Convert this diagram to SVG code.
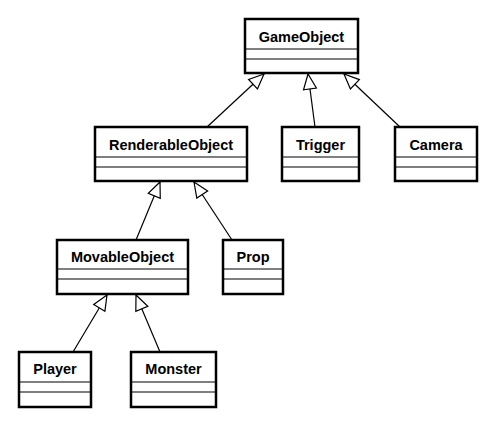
<svg xmlns="http://www.w3.org/2000/svg" width="503" height="435" viewBox="0 0 503 435">
<style>
.box{fill:#fff;stroke:#000;stroke-width:2.5}
.sep{stroke:#000;stroke-width:1.2}
.t{font-family:"Liberation Sans",Arial,sans-serif;font-weight:bold;font-size:14.5px;fill:#000;text-anchor:middle}
.c{stroke:#000;stroke-width:1.2;fill:none}
</style>
<defs>
<marker id="tri" markerUnits="userSpaceOnUse" markerWidth="18" markerHeight="16" viewBox="-16 -8 18 16" refX="0" refY="0" orient="auto">
<path d="M0,0 L-15,-6.5 L-15,6.5 Z" fill="#fff" stroke="#000" stroke-width="1.2"/>
</marker>
</defs>
<rect width="503" height="435" fill="#fff"/>
<g id="connectors">
<line class="c" x1="207" y1="127" x2="264" y2="74" marker-end="url(#tri)"/>
<line class="c" x1="315" y1="127" x2="308" y2="74" marker-end="url(#tri)"/>
<line class="c" x1="400" y1="127" x2="344" y2="74" marker-end="url(#tri)"/>
<line class="c" x1="136" y1="240" x2="160" y2="182" marker-end="url(#tri)"/>
<line class="c" x1="232" y1="240" x2="194" y2="182" marker-end="url(#tri)"/>
<line class="c" x1="73" y1="352" x2="107" y2="295" marker-end="url(#tri)"/>
<line class="c" x1="160" y1="352" x2="136" y2="295" marker-end="url(#tri)"/>
</g>
<g id="GameObject">
<rect class="box" x="245" y="19" width="113" height="54"/>
<line class="sep" x1="245" y1="49" x2="358" y2="49"/>
<line class="sep" x1="245" y1="59" x2="358" y2="59"/>
<text class="t" x="301.5" y="42">GameObject</text>
</g>
<g id="RenderableObject">
<rect class="box" x="95" y="127" width="152" height="54"/>
<line class="sep" x1="95" y1="157" x2="247" y2="157"/>
<line class="sep" x1="95" y1="167" x2="247" y2="167"/>
<text class="t" x="171" y="150">RenderableObject</text>
</g>
<g id="Trigger">
<rect class="box" x="282" y="127" width="77" height="54"/>
<line class="sep" x1="282" y1="157" x2="359" y2="157"/>
<line class="sep" x1="282" y1="167" x2="359" y2="167"/>
<text class="t" x="320.5" y="150">Trigger</text>
</g>
<g id="Camera">
<rect class="box" x="395" y="127" width="82" height="54"/>
<line class="sep" x1="395" y1="157" x2="477" y2="157"/>
<line class="sep" x1="395" y1="167" x2="477" y2="167"/>
<text class="t" x="436" y="150">Camera</text>
</g>
<g id="MovableObject">
<rect class="box" x="57" y="240" width="131" height="54"/>
<line class="sep" x1="57" y1="269" x2="188" y2="269"/>
<line class="sep" x1="57" y1="279" x2="188" y2="279"/>
<text class="t" x="122.5" y="262">MovableObject</text>
</g>
<g id="Prop">
<rect class="box" x="223" y="240" width="60" height="54"/>
<line class="sep" x1="223" y1="269" x2="283" y2="269"/>
<line class="sep" x1="223" y1="279" x2="283" y2="279"/>
<text class="t" x="253" y="262">Prop</text>
</g>
<g id="Player">
<rect class="box" x="19" y="352" width="72" height="55"/>
<line class="sep" x1="19" y1="382" x2="91" y2="382"/>
<line class="sep" x1="19" y1="392" x2="91" y2="392"/>
<text class="t" x="55" y="374">Player</text>
</g>
<g id="Monster">
<rect class="box" x="131" y="352" width="85" height="55"/>
<line class="sep" x1="131" y1="382" x2="216" y2="382"/>
<line class="sep" x1="131" y1="392" x2="216" y2="392"/>
<text class="t" x="173.5" y="374">Monster</text>
</g>
</svg>
